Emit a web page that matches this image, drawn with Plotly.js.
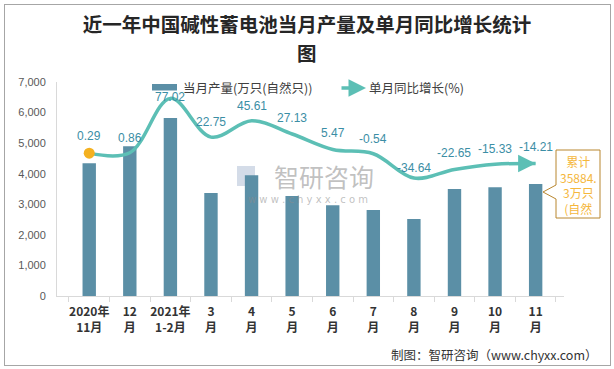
<!DOCTYPE html>
<html>
<head>
<meta charset="utf-8">
<script src="https://cdn.plot.ly/plotly-3.0.1.min.js"></script>
<style>
html,body{margin:0;padding:0;background:#fff;}
#chart{width:614px;height:369px;}
#frame{position:absolute;left:4px;top:4px;width:605px;height:360px;border:1px solid #a6a6a6;pointer-events:none;}
</style>
</head>
<body>
<div id="chart"></div>
<div id="frame"></div>
<script>
// ---- data ----
const categories = ['2020年<br>11月','12<br>月','2021年<br>1-2月','3<br>月','4<br>月','5<br>月','6<br>月','7<br>月','8<br>月','9<br>月','10<br>月','11<br>月'];
const production = [4340,4900,5820,3370,3950,3270,2970,2810,2520,3500,3560,3660];
const growth = [0.29,0.86,77.02,22.75,45.61,27.13,5.47,-0.54,-34.64,-22.65,-15.33,-14.21];
const seriesNames = ['当月产量(万只(自然只))','单月同比增长(%)'];
const titleLines = ['近一年中国碱性蓄电池当月产量及单月同比增长统计','图'];
const calloutLines = ['累计','35884.','3万只','(自然'];

// ---- styles ----
const barColor = '#5b8fa6';
const lineColor = '#5cbfb5';
const labelColor = '#3b8ea5';
const labelOffset = [17,15,1,15,15,16,16,15,10,16,15,16];
const cjk = '"Noto Sans CJK SC", "Noto Sans", sans-serif';

const L = 57, R = 50, T = 82, B = 73, W = 614, H = 369;
const pw = W - L - R, ph = H - T - B;
const px = x => (x - L) / pw;
const py = y => (H - B - y) / ph;

const traces = [
  {
    type: 'bar', name: seriesNames[0], x: categories, y: production,
    marker: {color: barColor}, hoverinfo: 'x+y', showlegend: false
  },
  {
    type: 'scatter', mode: 'lines+markers', name: seriesNames[1], x: categories, y: growth, yaxis: 'y2',
    line: {color: lineColor, width: 3.5, shape: 'spline', smoothing: 1},
    marker: {color: '#f4b120', opacity: 1, line: {width: 0}, size: growth.map((v, i) => i === 0 ? 11 : 0)},
    showlegend: false
  }
];

const annotations = [];
growth.forEach((v, i) => {
  annotations.push({
    x: categories[i], y: v, xref: 'x', yref: 'y2', yshift: labelOffset[i],
    text: v.toFixed(2), showarrow: false,
    font: {family: '"Liberation Sans", Arial, sans-serif', size: 12, color: labelColor}
  });
});
// arrowhead at the line end
annotations.push({
  x: categories[categories.length - 1], y: growth[growth.length - 1], xref: 'x', yref: 'y2',
  text: '', showarrow: true, arrowhead: 2, arrowsize: 1, arrowwidth: 3.5, arrowcolor: lineColor,
  ax: -16, ay: 0, standoff: 0
});
// second title line
annotations.push({
  xref: 'paper', yref: 'paper', x: px(307), y: py(52.5), xanchor: 'center', yanchor: 'middle',
  text: titleLines[1], showarrow: false, font: {family: cjk, size: 19.5, color: '#262626', weight: 'bold'}
});
// custom legend
annotations.push({
  xref: 'paper', yref: 'paper', x: px(181), y: py(87.5), xanchor: 'left', yanchor: 'middle',
  text: seriesNames[0], showarrow: false, font: {family: cjk, size: 12.5, color: '#404040'}
});
annotations.push({
  xref: 'paper', yref: 'paper', x: px(367), y: py(87.5), xanchor: 'left', yanchor: 'middle',
  text: seriesNames[1], showarrow: false, font: {family: cjk, size: 12.5, color: '#404040'}
});
annotations.push({
  xref: 'paper', yref: 'paper', x: px(366), y: py(88), ax: -26, ay: 0,
  text: '', showarrow: true, arrowhead: 2, arrowsize: 1, arrowwidth: 3.5, arrowcolor: lineColor, standoff: 0
});
// callout text
annotations.push({
  xref: 'paper', yref: 'paper', x: px(578), y: py(184.5), xanchor: 'center', yanchor: 'middle',
  text: calloutLines.join('<br>'), showarrow: false, align: 'center',
  font: {family: cjk, size: 12, color: '#f5b73c'}
});
// watermark
annotations.push({
  xref: 'paper', yref: 'paper', x: px(324), y: py(176), xanchor: 'center', yanchor: 'middle',
  text: '智研咨询', showarrow: false, font: {family: cjk, size: 25, color: 'rgba(140,140,140,0.55)'}
});
annotations.push({
  xref: 'paper', yref: 'paper', x: px(308), y: py(199), xanchor: 'center', yanchor: 'middle',
  text: 'w w w . c h y x x . c o m', showarrow: false, font: {family: '"DejaVu Sans", sans-serif', size: 10, color: 'rgba(140,140,140,0.55)'}
});
// footer
annotations.push({
  xref: 'paper', yref: 'paper', x: px(600), y: py(354), xanchor: 'right', yanchor: 'middle',
  text: '制图：智研咨询（www.chyxx.com）', showarrow: false, font: {family: cjk, size: 12.5, color: '#333333'}
});

const cx0 = px(556), cx1 = px(600), cy0 = py(218), cy1 = py(150);
const shapes = [
  {type: 'rect', xref: 'paper', yref: 'paper', x0: px(152), x1: px(177), y0: py(90.5), y1: py(84), fillcolor: barColor, line: {width: 0}},
  {type: 'rect', xref: 'paper', yref: 'paper', x0: px(237), x1: px(255), y0: py(186), y1: py(166), fillcolor: 'rgba(160,178,205,0.45)', line: {width: 0}, layer: 'below'},
  {type: 'path', xref: 'paper', yref: 'paper', layer: 'above',
   path: `M ${cx0} ${cy1} L ${cx1} ${cy1} L ${cx1} ${cy0} L ${cx0} ${cy0} L ${cx0} ${py(199)} L ${px(543)} ${py(192)} L ${cx0} ${py(185)} Z`,
   fillcolor: '#ffffff', line: {color: '#b8862e', width: 1}}
];

const layout = {
  width: W, height: H,
  margin: {l: L, r: R, t: T, b: B},
  paper_bgcolor: '#ffffff', plot_bgcolor: '#ffffff',
  title: {
    text: titleLines[0],
    font: {family: cjk, size: 19.5, color: '#262626', weight: 'bold'},
    x: 0.5, xanchor: 'center', xref: 'container', y: 1 - 25.5 / 369, yanchor: 'middle', yref: 'container'
  },
  bargap: 0.67,
  xaxis: {
    type: 'category', showline: true, linecolor: '#d9d9d9', linewidth: 1,
    ticks: 'outside', tickson: 'boundaries', ticklen: 5, tickcolor: '#d9d9d9', tickangle: 0,
    ticklabelstandoff: 5,
    showgrid: false, zeroline: false,
    tickfont: {family: cjk, size: 12, color: '#333333', weight: 'bold'}
  },
  yaxis: {
    range: [0, 7000], dtick: 1000, tickformat: ',d', showgrid: false, zeroline: false,
    showline: true, linecolor: '#d9d9d9', linewidth: 1, ticks: '', ticklabelstandoff: 8,
    tickfont: {family: '"Liberation Sans", Arial, sans-serif', size: 11, color: '#595959'}
  },
  yaxis2: {
    overlaying: 'y', side: 'right', range: [-200, 100], visible: false, showgrid: false, zeroline: false
  },
  showlegend: false,
  annotations: annotations,
  shapes: shapes
};

Plotly.newPlot('chart', traces, layout, {displayModeBar: false, staticPlot: true});
</script>
</body>
</html>
